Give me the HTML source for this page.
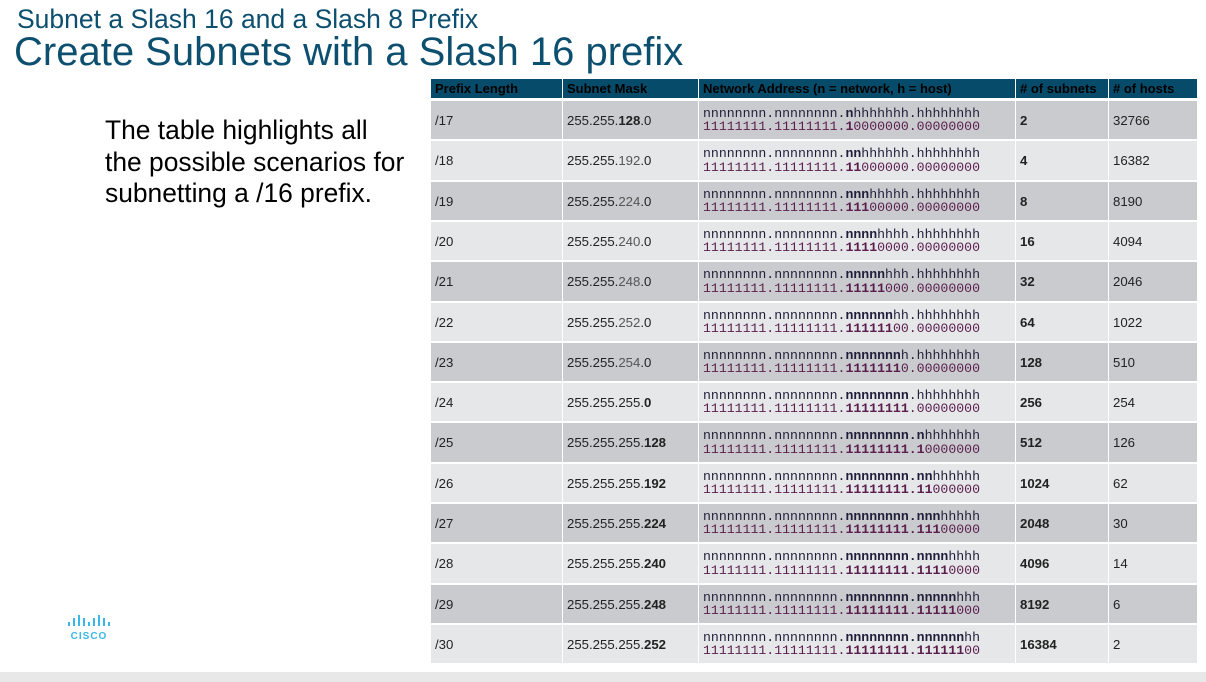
<!DOCTYPE html>
<html><head><meta charset="utf-8"><style>
body{margin:0;width:1206px;height:682px;background:#fff;position:relative;overflow:hidden;font-family:"Liberation Sans",sans-serif}
.t1{position:absolute;left:17px;top:4px;font-size:26.5px;color:#0d4f6e;line-height:30px;white-space:nowrap}
.t2{position:absolute;left:14px;top:30px;font-size:40px;color:#0d4f6e;line-height:44px;white-space:nowrap}
.desc{position:absolute;left:105px;top:115px;font-size:26.4px;line-height:31.5px;color:#000;white-space:nowrap}
.foot{position:absolute;left:0;top:672px;width:1206px;height:10px;background:#e8e8e8}
.c{position:absolute;font-size:13.2px;color:#222;box-sizing:border-box;display:flex;align-items:center;padding-left:4px;white-space:nowrap}
.h{background:#064b69;color:#000;font-weight:bold;font-size:13px}
.mono{font-family:"Liberation Mono",monospace;font-size:13.2px;line-height:13.5px;display:block}
.l1{color:#1e1f3a}.l2{color:#5a1d4e}
.g{color:#555}
</style></head><body>
<div class="t1">Subnet a Slash 16 and a Slash 8 Prefix</div>
<div class="t2">Create Subnets with a Slash 16 prefix</div>
<div class="desc">The table highlights all<br>the possible scenarios for<br>subnetting a /16 prefix.</div>
<svg style="position:absolute;left:64px;top:613px" width="54" height="30">
<g fill="#3bb6e8"><rect x="4" y="9" width="2" height="4"/><rect x="9" y="5" width="2" height="8"/><rect x="14" y="2" width="2" height="11"/><rect x="19" y="5" width="2" height="8"/><rect x="24" y="9" width="2" height="4"/><rect x="29" y="5" width="2" height="8"/><rect x="34" y="2" width="2" height="11"/><rect x="39" y="5" width="2" height="8"/><rect x="44" y="9" width="2" height="4"/></g>
<text x="25" y="26" font-family="Liberation Sans" font-weight="bold" font-size="10" fill="#3bb6e8" text-anchor="middle" letter-spacing="1">CISCO</text></svg>
<div id="tbl"></div>
<div class="foot"></div>
<script>
const prefixes=[17,18,19,20,21,22,23,24,25,26,27,28,29,30];
const subnets=["2","4","8","16","32","64","128","256","512","1024","2048","4096","8192","16384"];
const hosts=["32766","16382","8190","4094","2046","1022","510","254","126","62","30","14","6","2"];
const headers=["Prefix Length","Subnet Mask","Network Address (n = network, h = host)","# of subnets","# of hosts"];
const colX=[431,563,699,1016,1109],colW=[131,135,316,92,88];
const tbl=document.getElementById('tbl');
function cell(x,y,w,h,bg,html,cls,name){const d=document.createElement('div');d.className='c '+(cls||'');
d.style.cssText=`left:${x}px;top:${y}px;width:${w}px;height:${h}px;background:${bg}`;d.innerHTML=html;


tbl.appendChild(d);}
headers.forEach((t,i)=>cell(colX[i],79,colW[i],19,'#064b69',t,'h','header-'+i));
function bits(p,a,b){let s='';for(let i=0;i<32;i++){if(i&&i%8==0)s+='.';const ch=i<p?a:b;s+=(i>=16&&i<p)?'<b>'+ch+'</b>':ch;}return s.replace(/<\/b><b>/g,'').replace(/<\/b>\.<b>/g,'.');}
function mask(p){const o=[];for(let k=0;k<4;k++){const n=Math.max(0,Math.min(8,p-8*k));o.push(256-Math.pow(2,8-n));}
if(p<24)return `255.255.${p==17?'<b>'+o[2]+'</b>':'<span class="g">'+o[2]+'</span>'}.0`;
if(p==24)return '255.255.255.<b>0</b>';return `255.255.255.<b>${o[3]}</b>`;}
const pitch=40.3;
prefixes.forEach((p,r)=>{const y=Math.round(101+r*pitch),h=Math.round(101+(r+1)*pitch)-y-2;const bg=r%2?'#e6e7e8':'#c9cbce';
cell(colX[0],y,colW[0],h,bg,'/'+p,'','prefix-'+p);
cell(colX[1],y,colW[1],h,bg,mask(p),'','mask-'+p);
cell(colX[2],y,colW[2],h,bg,`<div><span class="mono l1">${bits(p,'n','h')}</span><span class="mono l2">${bits(p,'1','0')}</span></div>`,'','address-'+p);
cell(colX[3],y,colW[3],h,bg,'<b>'+subnets[r]+'</b>','','subnets-'+p);
cell(colX[4],y,colW[4],h,bg,hosts[r],'','hosts-'+p);});
</script></body></html>
